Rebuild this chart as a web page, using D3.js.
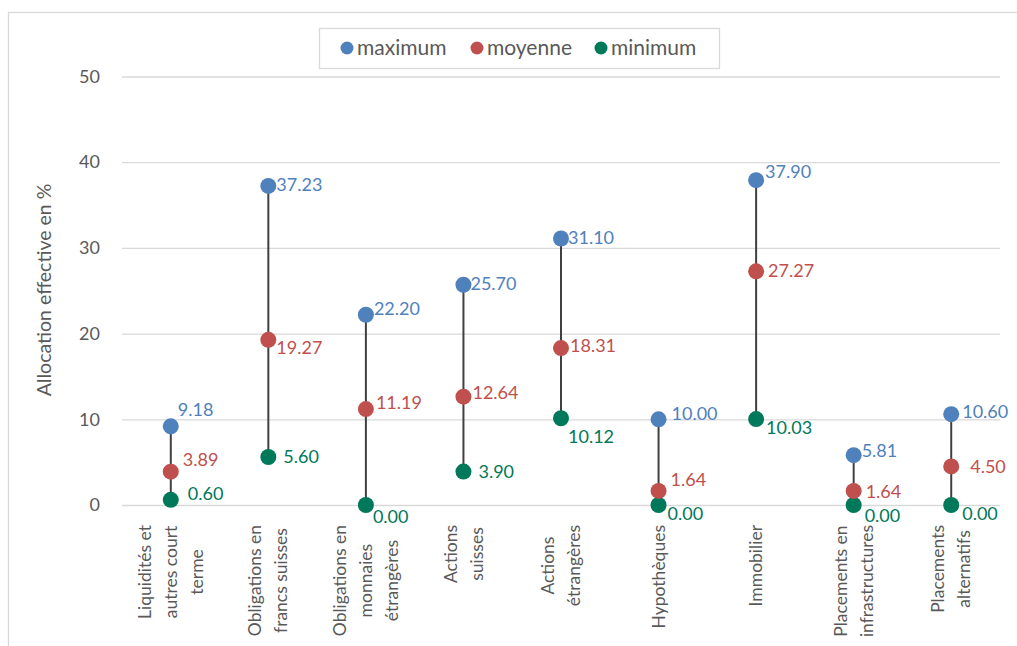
<!DOCTYPE html>
<html><head><meta charset="utf-8">
<script src="https://cdn.jsdelivr.net/npm/d3@7"></script>
<style>
body{margin:0;background:#fff;}
svg text{font-family:Lato,"Open Sans",sans-serif;}
</style></head>
<body><svg id="c" width="1017" height="646"></svg>
<script>
const categories = [
  ["Liquidités et","autres court","terme"],
  ["Obligations en","francs suisses"],
  ["Obligations en","monnaies","étrangères"],
  ["Actions","suisses"],
  ["Actions","étrangères"],
  ["Hypothèques"],
  ["Immobilier"],
  ["Placements en","infrastructures"],
  ["Placements","alternatifs"]
];
const maximum = [9.18, 37.23, 22.20, 25.70, 31.10, 10.00, 37.90, 5.81, 10.60];
const moyenne = [3.89, 19.27, 11.19, 12.64, 18.31, 1.64, 27.27, 1.64, 4.50];
const minimum = [0.60, 5.60, 0.00, 3.90, 10.12, 0.00, 10.03, 0.00, 0.00];
const yTicks = [0, 10, 20, 30, 40, 50];
const seriesNames = ["maximum", "moyenne", "minimum"];

// label offsets (dx, dy) per series per category
const labelOffsets = {
  maximum: [[7,-17],[8,-1],[8,-6],[7,-1],[7,-1],[13,-6],[9,-8],[8,-5],[11,-2]],
  moyenne: [[12,-12],[8,8],[10,-6],[9,-4],[9,-2],[12,-11],[12,-1],[12,1],[19,0]],
  minimum: [[17,-6],[15,0],[7,12],[15,0],[7,18],[9,9],[10,9],[11,11],[11,9]]
};

const colors = {maximum:"#4F81BD", moyenne:"#C0504D", minimum:"#00785A"};
const svg = d3.select("#c");
const margin = {left:122, right:1000, top:76.5, bottom:505};

// chart frame
svg.append("rect").attr("x",8.5).attr("y",12.5).attr("width",1030).attr("height",660)
  .attr("fill","none").attr("stroke","#d9d9d9").attr("stroke-width",1.3);

const x = d3.scaleBand().domain(d3.range(categories.length)).range([margin.left, margin.right]);
const y = d3.scaleLinear().domain([0,50]).range([margin.bottom, margin.top]);

// gridlines
const yAxis = d3.axisLeft(y).tickValues(yTicks).tickSize(-(margin.right-margin.left)).tickPadding(22);
const ga = svg.append("g").attr("transform",`translate(${margin.left},0)`).call(yAxis);
ga.select(".domain").remove();
ga.selectAll(".tick line").attr("stroke","#d9d9d9").attr("stroke-width",1.3);
ga.selectAll(".tick text").attr("fill","#595959").style("font-size","18px").attr("font-family","Lato");

// y title
svg.append("text").attr("transform","translate(51,290) rotate(-90)").attr("text-anchor","middle")
  .attr("fill","#595959").style("font-size","19.5px").text("Allocation effective en %");

// x labels
const lineH = 26;
categories.forEach((lines,i)=>{
  const cx = x(i) + x.bandwidth()/2;
  const g = svg.append("g");
  const n = lines.length;
  const texts = lines.map((ln,j)=>g.append("text")
    .attr("fill","#595959").style("font-size","17.5px").attr("text-anchor","middle")
    .attr("dy","0.35em").text(ln));
  const maxLen = d3.max(texts, t=>t.node().getComputedTextLength());
  const cy = 525 + maxLen/2;
  texts.forEach((t,j)=>{
    const lx = cx + (j-(n-1)/2)*lineH;
    t.attr("transform",`translate(${lx},${cy}) rotate(-90)`);
  });
});

// connectors
svg.append("g").selectAll("line").data(d3.range(categories.length)).join("line")
  .attr("x1",i=>x(i)+x.bandwidth()/2).attr("x2",i=>x(i)+x.bandwidth()/2)
  .attr("y1",i=>y(minimum[i])).attr("y2",i=>y(maximum[i]))
  .attr("stroke","#404040").attr("stroke-width",2);

const seriesData = {maximum, moyenne, minimum};
["minimum","moyenne","maximum"].forEach(s=>{
  const vals = seriesData[s];
  const g = svg.append("g");
  g.selectAll("circle").data(vals).join("circle")
    .attr("cx",(d,i)=>x(i)+x.bandwidth()/2).attr("cy",d=>y(d)).attr("r",8)
    .attr("fill",colors[s]);
  g.selectAll("text").data(vals).join("text")
    .attr("x",(d,i)=>x(i)+x.bandwidth()/2+labelOffsets[s][i][0])
    .attr("y",(d,i)=>y(d)+labelOffsets[s][i][1])
    .attr("dy","0.35em").attr("fill",colors[s]).style("font-size","18px")
    .text(d=>d3.format(".2f")(d));
});

// legend
svg.append("rect").attr("x",319.5).attr("y",28.5).attr("width",400).attr("height",40)
  .attr("fill","#fff").attr("stroke","#d9d9d9").attr("stroke-width",1.3);
const legX = [347, 477, 601];
seriesNames.forEach((s,i)=>{
  svg.append("circle").attr("cx",legX[i]).attr("cy",48).attr("r",6.5).attr("fill",colors[s]);
  svg.append("text").attr("x",legX[i]+10).attr("y",48).attr("dy","0.35em")
    .attr("fill","#595959").style("font-size","21px").text(s);
});
</script></body></html>
